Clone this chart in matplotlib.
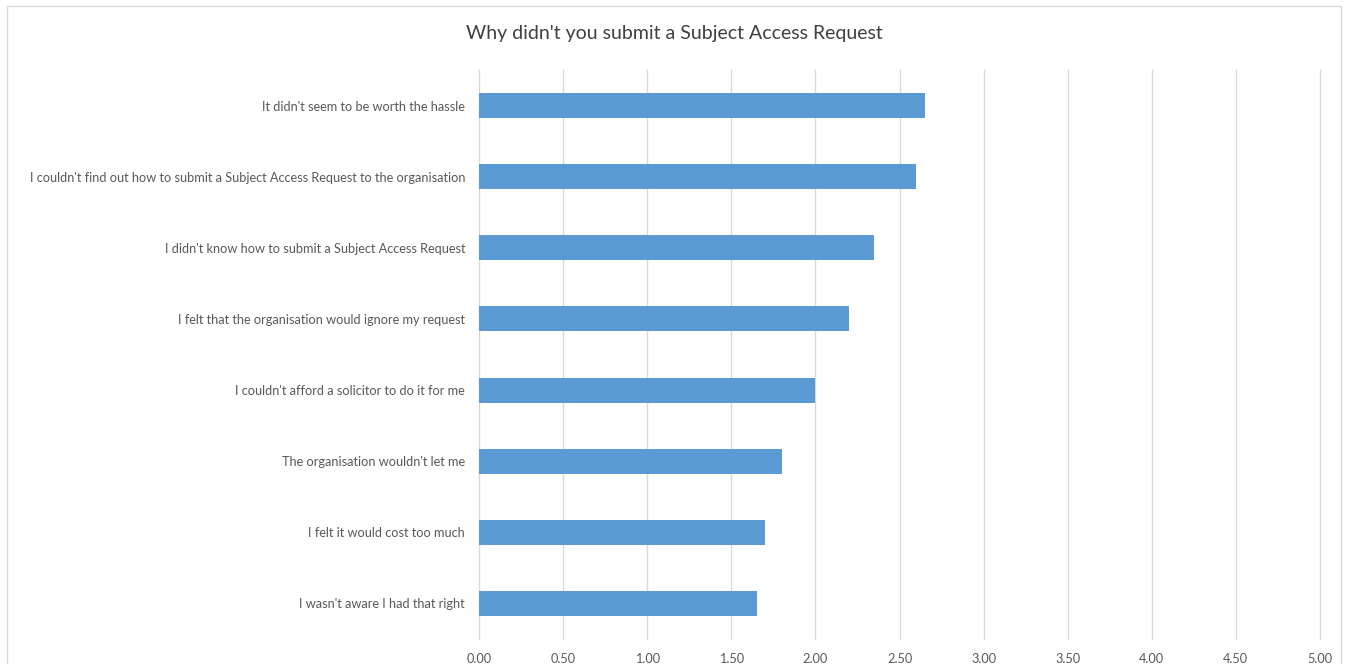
import matplotlib.pyplot as plt
from matplotlib.patches import Rectangle
import numpy as np

# categories listed bottom to top
labels = ["I wasn't aware I had that right",
          "I felt it would cost too much",
          "The organisation wouldn't let me",
          "I couldn't afford a solicitor to do it for me",
          "I felt that the organisation would ignore my request",
          "I didn't know how to submit a Subject Access Request",
          "I couldn't find out how to submit a Subject Access Request to the organisation",
          "It didn't seem to be worth the hassle"]
values = [1.65, 1.70, 1.80, 2.00, 2.20, 2.35, 2.60, 2.65]
xticks = np.arange(0, 5.01, 0.5)

plt.rcParams['font.family'] = ['Lato', 'DejaVu Sans']

W, H = 1347, 664
fig = plt.figure(figsize=(W/100, H/100), dpi=100)
ax = fig.add_axes([479/W, 1-639/H, (1320-479)/W, (639-70)/H])

# outer chart frame
fig.patches.append(Rectangle((7/W, -0.01), (1341-7)/W, 1-6/H+0.01,
                             transform=fig.transFigure, fill=False,
                             edgecolor='#d9d9d9', linewidth=1))

y = np.arange(len(labels))
ax.barh(y, values, height=0.35, color='#5b9bd5', zorder=3)

ax.set_xlim(0, 5)
ax.set_ylim(-0.5, len(labels)-0.5)
ax.set_xticks(xticks)
ax.set_xticklabels(['{:.2f}'.format(t) for t in xticks])
ax.set_yticks(y)
ax.set_yticklabels(labels)
ax.tick_params(length=0, labelsize=9.2, labelcolor='#595959')
ax.tick_params(axis='y', pad=10)
ax.tick_params(axis='x', pad=10)
ax.grid(axis='x', color='#d9d9d9', linewidth=1, zorder=0)
for gl in ax.get_xgridlines():
    gl.set_clip_on(False)
for s in ax.spines.values():
    s.set_visible(False)

fig.text(674/W, 1-33/H, "Why didn't you submit a Subject Access Request",
         ha='center', va='center', fontsize=14, color='#404040')

fig.savefig('out.png', dpi=100)
